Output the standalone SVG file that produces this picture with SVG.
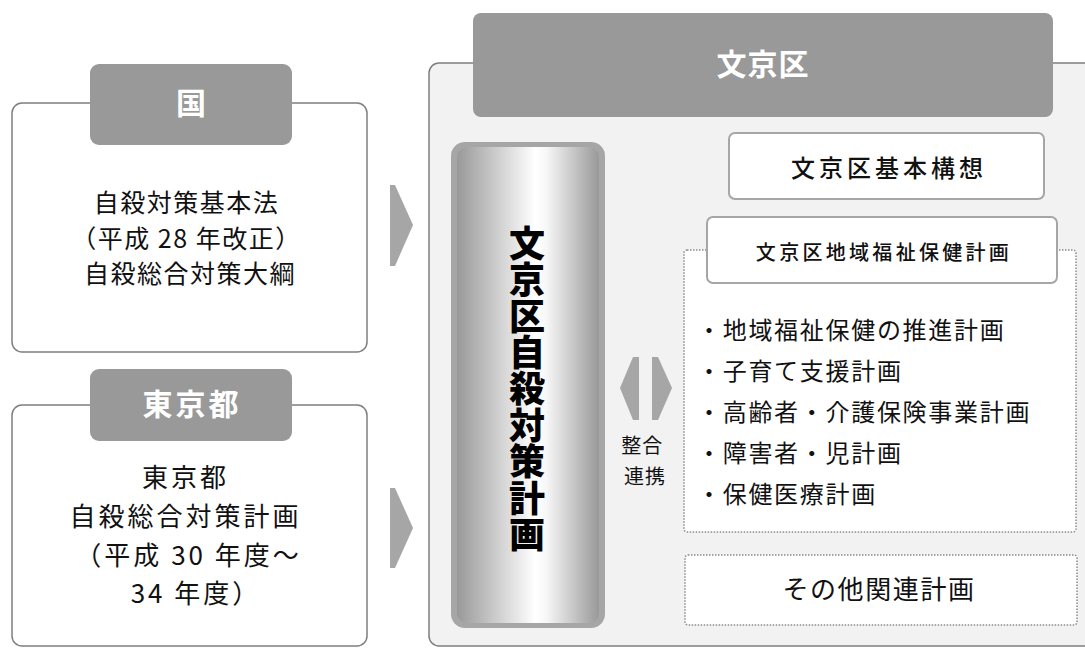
<svg xmlns="http://www.w3.org/2000/svg" width="1085" height="648" viewBox="0 0 1085 648">
<defs>
<style>
.t{font-family:"Noto Sans CJK JP","Noto Sans",sans-serif;fill:#111;}
.hd{font-family:"Noto Sans CJK JP","Noto Sans",sans-serif;fill:#fff;font-weight:700;}
.box{fill:#fff;stroke:#7f7f7f;stroke-width:1.5;}
.tab{fill:#999;}
.arr{fill:#a6a6a6;}
.dot{fill:#fff;stroke:#8c8c8c;stroke-width:1.5;stroke-dasharray:1.5 1.5;}
.wb{fill:#fff;stroke:#a6a6a6;stroke-width:2;}
</style>
<linearGradient id="pg" x1="0" y1="0" x2="1" y2="0">
<stop offset="0" stop-color="#999"/>
<stop offset="0.55" stop-color="#fff"/>
<stop offset="0.63" stop-color="#f7f7f7"/>
<stop offset="1" stop-color="#999"/>
</linearGradient>
</defs>
<rect width="1085" height="648" fill="#fff"/>

<g id="kuni">
<rect class="box" x="12" y="103" width="355" height="249" rx="10"/>
<rect class="tab" x="90" y="64" width="202" height="81" rx="9"/>
<text class="hd" x="191" y="114" font-size="30" text-anchor="middle">国</text>
<text class="t" font-size="25" letter-spacing="1.5" text-anchor="middle">
<tspan x="190" y="211.5">自殺対策基本法</tspan>
<tspan x="190" y="247.5">（平成 28 年改正）</tspan>
<tspan x="190" y="282.5">自殺総合対策大綱</tspan>
</text>
</g>

<g id="tokyo">
<rect class="box" x="12" y="405" width="355" height="241" rx="10"/>
<rect class="tab" x="90" y="369" width="202" height="72" rx="9"/>
<text class="hd" x="192" y="415" font-size="30" letter-spacing="3" text-anchor="middle">東京都</text>
<text class="t" font-size="26" letter-spacing="3" text-anchor="middle">
<tspan x="190" y="487">東京都</tspan>
<tspan x="190" y="526">自殺総合対策計画</tspan>
<tspan x="193" y="565">（平成 30 年度～</tspan>
<tspan x="196" y="603">34 年度）</tspan>
</text>
</g>

<g id="bunkyo">
<rect x="429" y="63" width="680" height="583" rx="10" fill="#f2f2f2" stroke="#7f7f7f" stroke-width="1.5"/>
<rect class="tab" x="473" y="13" width="580" height="104" rx="8"/>
<text class="hd" x="763" y="75" font-size="30" letter-spacing="1" text-anchor="middle">文京区</text>
</g>

<g id="connectors">
<polygon class="arr" points="390,185 395,185 413,225 395,266 390,266"/>
<polygon class="arr" points="390,488 395,488 413,528 395,568 390,568"/>
<polygon class="arr" points="620,388 633,357 639,357 639,420 633,420"/>
<polygon class="arr" points="652,357 658,357 672,388 658,420 652,420"/>
</g>

<g id="jisatsu-plan">
<rect x="451" y="142" width="154" height="486" rx="14" fill="#a6a6a6"/>
<rect x="457" y="147" width="142" height="476" rx="10" fill="url(#pg)"/>
<text class="t" x="527" y="389" font-size="36" font-weight="900" letter-spacing="0.4" text-anchor="middle" writing-mode="vertical-rl" style="fill:#000">文京区自殺対策計画</text>
</g>

<g id="seigo-label">
<text class="t" font-size="20" letter-spacing="1" text-anchor="middle">
<tspan x="645" y="452.6">整合</tspan>
<tspan x="645" y="483.6">連携</tspan>
</text>
</g>

<g id="kihon-koso">
<rect class="wb" x="729" y="133" width="315" height="66" rx="6"/>
<text class="t" x="889" y="177" font-size="24" font-weight="500" letter-spacing="4" text-anchor="middle">文京区基本構想</text>
</g>

<g id="fukushi">
<rect class="dot" x="684" y="250" width="392" height="282" rx="3"/>
<rect class="wb" x="707" y="217" width="350" height="66" rx="6"/>
<text class="t" x="884" y="259.6" font-size="20" font-weight="500" letter-spacing="3.3" text-anchor="middle">文京区地域福祉保健計画</text>
<text class="t" font-size="24" letter-spacing="1.7">
<tspan x="697" y="339.1">・地域福祉保健の推進計画</tspan>
<tspan x="697" y="380.1">・子育て支援計画</tspan>
<tspan x="697" y="421.1">・高齢者・介護保険事業計画</tspan>
<tspan x="697" y="462.1">・障害者・児計画</tspan>
<tspan x="697" y="503.1">・保健医療計画</tspan>
</text>
</g>

<g id="sonota">
<rect class="dot" x="685" y="555" width="392" height="70" rx="3"/>
<text class="t" x="879" y="599" font-size="26" letter-spacing="1.6" text-anchor="middle">その他関連計画</text>
</g>
</svg>
